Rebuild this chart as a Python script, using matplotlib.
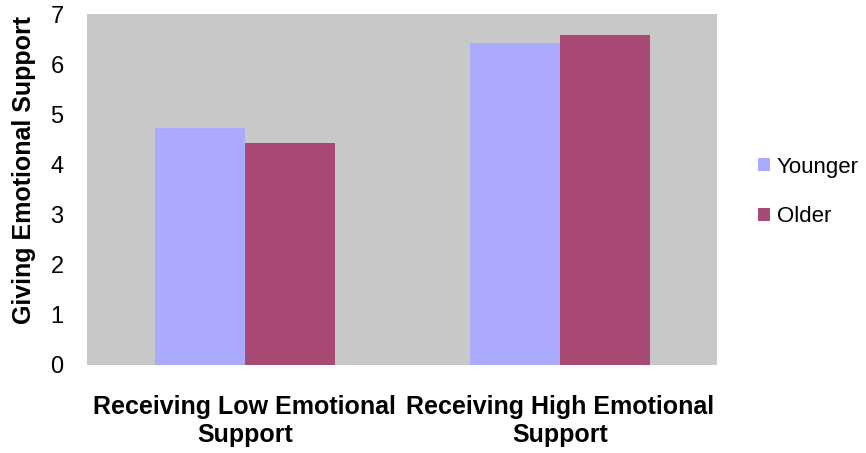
import matplotlib
matplotlib.use("Agg")
import matplotlib.pyplot as plt
import numpy as np

plt.rcParams['font.family'] = ['Liberation Sans', 'DejaVu Sans']

# data
categories = ["Receiving Low Emotional\nSupport", "Receiving High Emotional\nSupport"]
younger = [4.72, 6.42]
older = [4.42, 6.58]
series_names = ["Younger", "Older"]
yticks = [0, 1, 2, 3, 4, 5, 6, 7]

col_young = "#aaaaff"
col_old = "#a94a76"

fig = plt.figure(figsize=(8.66, 4.53), dpi=100)
ax = fig.add_axes([87.3 / 866, 1 - 364.7 / 453, 630 / 866, 350.7 / 453])
ax.set_facecolor("#c8c8c8")

x = np.arange(len(categories))
w = 0.285
ax.bar(x - w / 2, younger, w, color=col_young, label=series_names[0])
ax.bar(x + w / 2, older, w, color=col_old, label=series_names[1])

ax.set_xlim(-0.5, 1.5)
ax.set_ylim(0, 7)
ax.set_yticks(yticks)
ax.set_yticklabels([str(t) for t in yticks], fontsize=17)
ax.tick_params(axis='y', length=0, pad=17)
ax.set_xticks(x)
ax.set_xticklabels(categories, fontsize=18, fontweight='bold', linespacing=1.2)
ax.tick_params(axis='x', length=0, pad=22)
for s in ax.spines.values():
    s.set_visible(False)

ax.set_ylabel("Giving Emotional Support", fontsize=18, fontweight='bold')
ax.yaxis.set_label_coords(-0.082, 0.555)

fig.legend(loc='center left', bbox_to_anchor=(758 / 866, 1 - 192 / 453),
           frameon=False, fontsize=16, handlelength=0.55, handleheight=0.55,
           handletextpad=0.3, labelspacing=1.3, borderpad=0, borderaxespad=0)

fig.savefig("out.png", dpi=100)
